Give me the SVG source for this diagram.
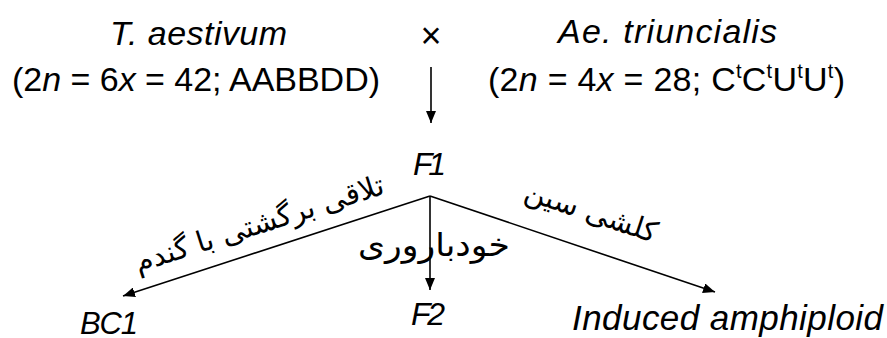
<svg xmlns="http://www.w3.org/2000/svg" width="887" height="338" viewBox="0 0 887 338">
<defs>
<style>
.t{font-family:"Liberation Sans",Arial,sans-serif;fill:#000;}
.i{font-style:italic;}
.ar{font-family:"DejaVu Sans","Noto Sans",sans-serif;fill:#000;}
.ln{stroke:#000;stroke-width:1.6;fill:none;}
</style>
<marker id="ah" viewBox="0 0 12 10" refX="12" refY="5" markerWidth="12" markerHeight="10" markerUnits="userSpaceOnUse" orient="auto">
<path d="M0,0 L12,5 L0,10 Z" fill="#000"/>
</marker>
</defs>
<rect width="887" height="338" fill="#fff"/>
<g id="parent1">
<text class="t i" x="110" y="45" font-size="34" textLength="177">T. aestivum</text>
<text class="t" x="12" y="91" font-size="34" textLength="368">(2<tspan class="i">n</tspan> = 6<tspan class="i">x</tspan> = 42; AABBDD)</text>
</g>
<g id="cross">
<text class="t" x="431" y="48" font-size="36" text-anchor="middle">×</text>
</g>
<g id="parent2">
<text class="t i" x="558" y="43" font-size="34" textLength="219">Ae. triuncialis</text>
<text class="t" x="488" y="91" font-size="34" textLength="357">(2<tspan class="i">n</tspan> = 4<tspan class="i">x</tspan> = 28; C<tspan font-size="20" dy="-13">t</tspan><tspan dy="13">C</tspan><tspan font-size="20" dy="-13">t</tspan><tspan dy="13">U</tspan><tspan font-size="20" dy="-13">t</tspan><tspan dy="13">U</tspan><tspan font-size="20" dy="-13">t</tspan><tspan dy="13">)</tspan></text>
</g>
<g id="F1">
<text class="t i" x="413" y="175" font-size="32" textLength="33">F1</text>
</g>
<g id="F2">
<text class="t i" x="411" y="325" font-size="32" textLength="34">F2</text>
</g>
<g id="BC1">
<text class="t i" x="80" y="334" font-size="31" textLength="58">BC1</text>
</g>
<g id="amphiploid">
<text class="t i" x="572" y="330" font-size="35" textLength="311">Induced amphiploid</text>
</g>
<g id="connectors">
<line class="ln" x1="431" y1="67" x2="431" y2="123" marker-end="url(#ah)"/>
<line class="ln" x1="430" y1="196" x2="123" y2="296" marker-end="url(#ah)"/>
<line class="ln" x1="430" y1="196" x2="430" y2="290" marker-end="url(#ah)"/>
<line class="ln" x1="430" y1="196" x2="715" y2="292" marker-end="url(#ah)"/>
</g>
<g id="labels">
<text class="ar" font-size="29" text-anchor="middle" direction="rtl" transform="translate(262,233) rotate(-17.7)">تلاقی برگشتی با گندم</text>
<text class="ar" x="434" y="256" font-size="32" text-anchor="middle" direction="rtl" textLength="152" lengthAdjust="spacingAndGlyphs">خودباروری</text>
<text class="ar" font-size="29" text-anchor="middle" direction="rtl" transform="translate(588,221) rotate(18.4)">کلشی سین</text>
</g>
</svg>
